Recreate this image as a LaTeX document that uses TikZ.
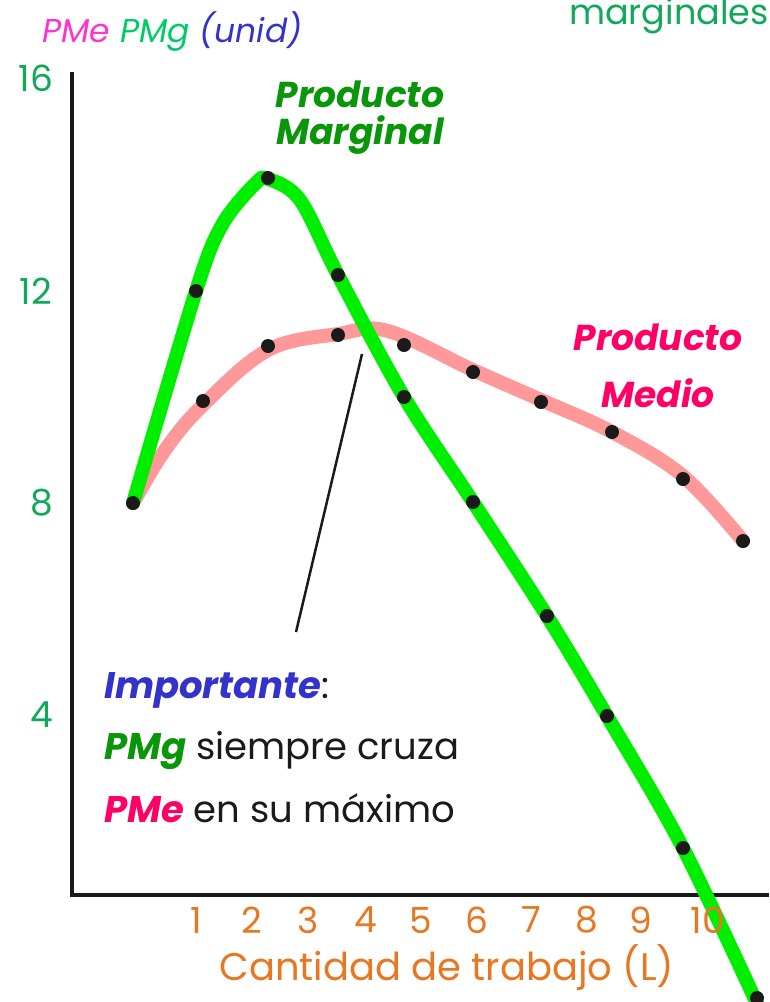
\documentclass[tikz,border=0pt]{standalone}
\usepackage{fontspec}
\setmainfont{Poppins}
\usetikzlibrary{calc}
\definecolor{pmgreen}{HTML}{00EE00}
\definecolor{pmpink}{HTML}{FF9999}
\definecolor{lblgreen}{HTML}{12A85A}
\definecolor{darkgr}{HTML}{0A960A}
\definecolor{hotpink}{HTML}{FF0066}
\definecolor{magpink}{HTML}{FF33CC}
\definecolor{brgreen}{HTML}{00CC66}
\definecolor{bluetxt}{HTML}{3333CC}
\definecolor{orangetxt}{HTML}{E87722}
\definecolor{dotc}{HTML}{1A1A1A}
\tikzset{
  dot/.style={circle,fill=dotc,inner sep=0pt,minimum size=14pt},
  axis/.style={line width=3.5pt,draw=dotc},
  xtick/.style={text=orangetxt,font=\fontsize{36}{40}\selectfont,anchor=center},
  ytick/.style={text=lblgreen,font=\fontsize{36}{40}\selectfont,anchor=center},
  title/.style={font=\fontsize{36}{37}\selectfont\bfseries\itshape,anchor=center},
  note/.style={font=\fontsize{37}{40}\selectfont,anchor=west,inner sep=0pt}
}
\begin{document}
\begin{tikzpicture}[x=1pt,y=-1pt]
\useasboundingbox (0,0) rectangle (769,1002);
% axes
\coordinate (o) at (72,895);
\coordinate (ytop) at (72,72);
\coordinate (xend) at (769,895);
\draw[axis] (ytop) -- (o) -- (xend);
% PMe curve
\draw[pmpink,line width=14pt,line cap=round] plot[smooth,tension=0.6] coordinates {(133,503) (165,450) (203,405) (268,350) (338,334) (388,331) (473,370) (541,400) (612,432) (683,476) (743,541)};
% PMg curve
\draw[pmgreen,line width=14pt,line cap=round] plot[smooth,tension=0.55] coordinates {(133,503) (196,291) (222,225) (255,184) (268,179) (300,200) (338,275) (404,397) (473,502) (547,616) (607,716) (683,848) (760,1010)};
% pointer line
\coordinate (pa) at (296,632);
\coordinate (pb) at (362,354);
\draw[dotc,line width=2.5pt] (pa) -- (pb);
% dots
\foreach \n/\p in {g1/{(133,503)},g2/{(196,291)},g3/{(268,178)},g4/{(338,275)},g5/{(404,397)},g6/{(473,502)},g7/{(547,616)},g8/{(607,716)},g9/{(683,848)},g10/{(757,998)},
  m2/{(203,401)},m3/{(268,346)},m4/{(338,335)},m5/{(404,345)},m6/{(473,372)},m7/{(541,402)},m8/{(612,432)},m9/{(683,479)},m10/{(743,541)}}
  \node[dot] (\n) at \p {};
% y ticks
\node[ytick] (y16) at (36,78) {16};
\node[ytick] (y12) at (36,291) {12};
\node[ytick] (y8) at (42,503) {8};
\node[ytick] (y4) at (42,715) {4};
% x ticks
\foreach \t/\xx in {1/196,2/252,3/308,4/366,5/421,6/477,7/531,8/587,9/641,10/708}
  \node[xtick] (x\t) at (\xx,920) {\t};
\node[xtick,font=\fontsize{38.5}{42}\selectfont] (xlab) at (447,968) {Cantidad de trabajo (L)};
% titles
\node[title,text=darkgr,align=center] (pmgt) at (360,118) {Producto\\Marginal};
\node[title,text=hotpink,align=center,font=\fontsize{36}{57}\selectfont\bfseries\itshape] (pmet) at (658,366) {Producto\\Medio};
% axis title
\node[anchor=west,font=\fontsize{33}{36}\selectfont\itshape,inner sep=0pt] (ylab) at (42,32) {\textcolor{magpink}{PMe} \textcolor{brgreen}{PMg} \textcolor{bluetxt}{(unid)}};
\node[anchor=east,font=\fontsize{35}{38}\selectfont,text=lblgreen,inner sep=0pt] (marg) at (769,16) {marginales};
% note
\node[note] (n1) at (104,690) {\textcolor{bluetxt}{\bfseries\itshape Importante}\textcolor{dotc}{:}};
\node[note] (n2) at (104,750) {\textcolor{darkgr}{\bfseries\itshape PMg} \textcolor{dotc}{siempre cruza}};
\node[note] (n3) at (104,808) {\textcolor{hotpink}{\bfseries\itshape PMe} \textcolor{dotc}{en su máximo}};
\end{tikzpicture}
\end{document}
